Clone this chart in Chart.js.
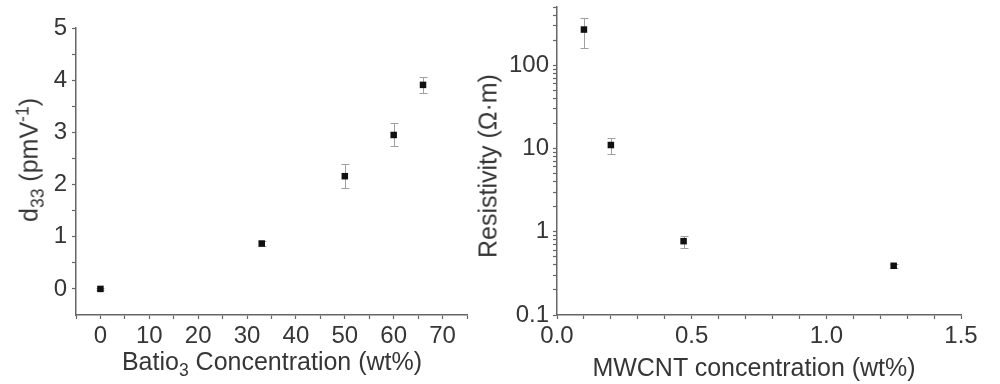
<!DOCTYPE html>
<html>
<head>
<meta charset="utf-8">
<script src="https://cdn.jsdelivr.net/npm/chart.js@4"></script>
<style>
  body { margin: 0; background: #fff; }
  #wrap { position: relative; width: 1000px; height: 384px; overflow: hidden; font-family: "Liberation Sans", Arial, sans-serif; color: #363636; }
  canvas { position: absolute; top: 0; }
  .title { position: absolute; font-size: 25px; white-space: nowrap; transform: translate(-50%, -50%); line-height: 1; }
  .title.rot { transform: translate(-50%, -50%) rotate(-90deg); }
  sub, sup { font-size: 0.7em; }
</style>
</head>
<body>
<div id="wrap">
  <canvas id="left" width="480" height="384" style="left:0;width:480px;height:384px"></canvas>
  <canvas id="right" width="520" height="384" style="left:480px;width:520px;height:384px"></canvas>
  <div class="title rot" style="left:31px;top:160px">d<sub>33</sub> (pmV<sup>-1</sup>)</div>
  <div class="title" style="left:272px;top:364px">Batio<sub>3</sub> Concentration (wt%)</div>
  <div class="title rot" style="left:488px;top:166px">Resistivity (&Omega;&middot;m)</div>
  <div class="title" style="left:754px;top:367px">MWCNT concentration (wt%)</div>
</div>
<script>
// left panel: d33 vs BaTiO3 content
const batioConc = [0, 33, 50, 60, 66];
const d33Values = [0, 0.87, 2.16, 2.95, 3.91];
const d33Errors = [0.02, 0.04, 0.23, 0.22, 0.15];
const leftXLabels = [0, 10, 20, 30, 40, 50, 60, 70];
const leftYLabels = [0, 1, 2, 3, 4, 5];

// right panel: resistivity vs MWCNT content
const mwcntConc = [0.1, 0.2, 0.47, 1.25];
const resistivity = [268, 11, 0.77, 0.39];
const resErrors = [105, 2.5, 0.13, 0.02];
const rightXLabels = ['0.0', '0.5', '1.0', '1.5'];
const rightYLabels = [0.1, 1, 10, 100];

const textColor = '#363636';
const axisColor = '#666';
const fontFamily = '"Liberation Sans", Arial, sans-serif';

// error bars go under the markers
const errorBars = {
    id: 'errorBars',
    beforeDatasetsDraw(chart) {
        const { ctx, scales: { x, y } } = chart;
        const errs = chart.options.plugins.errorBars.errors;
        const pts = chart.data.datasets[0].data;
        ctx.save();
        ctx.strokeStyle = '#a0a0a0';
        ctx.lineWidth = 1;
        pts.forEach((p, i) => {
            const e = errs[i];
            if (!e) return;
            const px = Math.round(x.getPixelForValue(p.x)) + 0.5;
            const top = Math.round(y.getPixelForValue(p.y + e)) + 0.5;
            const bot = Math.round(y.getPixelForValue(p.y - e)) + 0.5;
            ctx.beginPath();
            ctx.moveTo(px, top); ctx.lineTo(px, bot);
            ctx.moveTo(px - 4, top); ctx.lineTo(px + 4, top);
            ctx.moveTo(px - 4, bot); ctx.lineTo(px + 4, bot);
            ctx.stroke();
        });
        ctx.restore();
    }
};

function axisGrid() {
    return { display: true, drawOnChartArea: false, drawTicks: true, tickLength: 4, tickColor: axisColor, tickWidth: 1.2 };
}

function makeChart(id, xs, ys, errs, opts) {
    return new Chart(document.getElementById(id), {
        type: 'scatter',
        data: {
            datasets: [{
                data: xs.map((v, i) => ({ x: v, y: ys[i] })),
                pointStyle: 'rect',
                pointRadius: 4.6,
                backgroundColor: '#111',
                borderColor: '#111',
                borderWidth: 0
            }]
        },
        plugins: [errorBars],
        options: {
            responsive: false,
            animation: false,
            layout: { padding: opts.padding },
            plugins: {
                legend: { display: false },
                tooltip: { enabled: false },
                errorBars: { errors: errs }
            },
            scales: { x: opts.x, y: opts.y }
        }
    });
}

makeChart('left', batioConc, d33Values, d33Errors, {
    padding: { top: 28, right: 13, left: 0, bottom: 0 },
    x: {
        type: 'linear', min: -5, max: 75,
        border: { color: axisColor, width: 1.5 },
        grid: axisGrid(),
        afterBuildTicks: s => { s.ticks = []; for (let v = -5; v <= 75; v += 5) s.ticks.push({ value: v }); },
        afterFit: s => { s.height = 69; },
        ticks: {
            autoSkip: false, maxRotation: 0, padding: 3, color: textColor,
            font: { family: fontFamily, size: 24 },
            callback: v => leftXLabels.includes(v) ? String(v) : ''
        }
    },
    y: {
        type: 'linear', min: -0.5, max: 5,
        border: { color: axisColor, width: 1.5 },
        grid: axisGrid(),
        afterBuildTicks: s => { s.ticks = []; for (let v = 0; v <= 5; v += 0.5) s.ticks.push({ value: v }); },
        afterFit: s => { s.width = 76; },
        ticks: {
            autoSkip: false, padding: 5, color: textColor,
            font: { family: fontFamily, size: 24 },
            callback: v => leftYLabels.includes(v) ? String(v) : ''
        }
    }
});

makeChart('right', mwcntConc, resistivity, resErrors, {
    padding: { top: 7, right: 39, left: 0, bottom: 0 },
    x: {
        type: 'linear', min: 0, max: 1.5,
        border: { color: axisColor, width: 1.5 },
        grid: axisGrid(),
        afterBuildTicks: s => { s.ticks = []; for (let i = 0; i <= 15; i++) s.ticks.push({ value: i / 10 }); },
        afterFit: s => { s.height = 69; },
        ticks: {
            autoSkip: false, maxRotation: 0, padding: 3, color: textColor,
            font: { family: fontFamily, size: 24 },
            callback: v => {
                const idx = rightXLabels.findIndex(l => Math.abs(parseFloat(l) - v) < 1e-6);
                return idx >= 0 ? rightXLabels[idx] : '';
            }
        }
    },
    y: {
        type: 'logarithmic', min: 0.1, max: 500,
        border: { color: axisColor, width: 1.5 },
        grid: axisGrid(),
        afterBuildTicks: s => {
            s.ticks = [];
            [0.1, 1, 10, 100].forEach(d => {
                for (let m = 1; m <= 9; m++) {
                    const v = +(d * m).toPrecision(3);
                    if (v <= 500) s.ticks.push({ value: v });
                }
            });
        },
        // the top end carries no label, so no room is needed above it
        afterFit: s => { s.width = 77; s.paddingTop = 0; },
        ticks: {
            autoSkip: false, padding: 4, color: textColor,
            font: { family: fontFamily, size: 24 },
            callback: v => rightYLabels.some(l => Math.abs(l - v) < 1e-9) ? String(v) : ''
        }
    }
});
</script>
</body>
</html>
